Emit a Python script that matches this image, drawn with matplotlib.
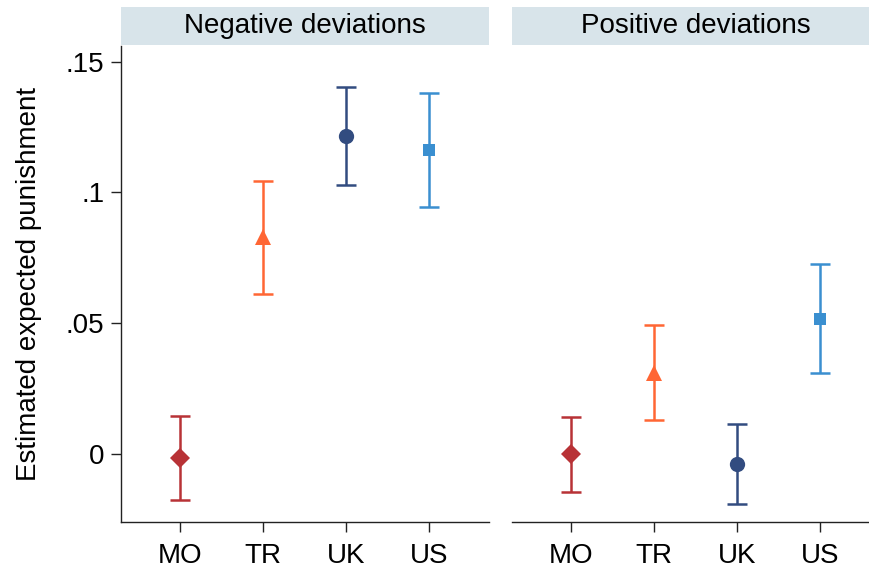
import matplotlib
matplotlib.use("Agg")
import matplotlib.pyplot as plt
from matplotlib.patches import Rectangle

plt.rcParams.update({
    "font.family": ["Liberation Sans", "DejaVu Sans"],
    "font.size": 20,
})

countries = ["MO", "TR", "UK", "US"]
colors = ["#b83236", "#ff6634", "#324c80", "#3a8fd0"]
markers = ["D", "^", "o", "s"]
msizes = [10, 11, 11, 9]

panels = ["Negative deviations", "Positive deviations"]
# point estimates with 95% CI bounds, per panel
neg_est = [-0.0017, 0.0831, 0.1215, 0.1161]
neg_lo = [-0.0176, 0.0612, 0.1027, 0.0944]
neg_hi = [0.0147, 0.1045, 0.1404, 0.1380]
pos_est = [-0.0001, 0.0310, -0.0038, 0.0518]
pos_lo = [-0.0146, 0.0131, -0.0193, 0.0308]
pos_hi = [0.0143, 0.0494, 0.0115, 0.0728]

yticks = [0, 0.05, 0.1, 0.15]
ytick_labels = ["0", ".05", ".1", ".15"]

fig = plt.figure(figsize=(8.7, 5.69), dpi=100)
W, H = 870, 569


def px_axes(x0, y0, x1, y1):
    return fig.add_axes([x0 / W, 1 - y1 / H, (x1 - x0) / W, (y1 - y0) / H])


# panel pixel extents; the right panel runs off the canvas edge
boxes = [(121, 489), (512, 870)]
title_cx = [305, 696]
data = [(neg_est, neg_lo, neg_hi), (pos_est, pos_lo, pos_hi)]
xlims = [(0.29, 4.72), (0.293, 4.606)]

for i, ((x0, x1), (est, lo, hi), title) in enumerate(zip(boxes, data, panels)):
    ax = px_axes(x0, 46, x1, 522)
    for k in range(len(countries)):
        ax.errorbar(k + 1, est[k], yerr=[[est[k] - lo[k]], [hi[k] - est[k]]],
                    fmt="none", ecolor=colors[k], elinewidth=1.8,
                    capsize=7, capthick=1.8)
        ax.plot(k + 1, est[k], marker=markers[k], color=colors[k],
                ms=msizes[k], mew=0, zorder=3)
    ax.set_xlim(*xlims[i])
    ax.set_ylim(-0.026, 0.156)
    ax.set_xticks(range(1, len(countries) + 1))
    ax.set_xticklabels(countries)
    ax.tick_params(axis="x", length=7, width=1.0, color="#222222", pad=8)
    for s in ("top", "right"):
        ax.spines[s].set_visible(False)
    ax.spines["bottom"].set_color("#222222")
    ax.spines["bottom"].set_linewidth(1.0)
    if i == 0:
        ax.set_yticks(yticks)
        ax.set_yticklabels(ytick_labels)
        ax.tick_params(axis="y", length=7, width=1.0, color="#222222", pad=5)
        ax.spines["left"].set_color("#222222")
        ax.spines["left"].set_linewidth(1.0)
        ax.set_ylabel("Estimated expected punishment", labelpad=17)
    else:
        ax.spines["left"].set_visible(False)
        ax.set_yticks([])

    # panel header strip
    sax = px_axes(x0, 7, x1, 44.5)
    sax.set_axis_off()
    sax.add_patch(Rectangle((0, 0), 1, 1, transform=sax.transAxes,
                            facecolor="#d8e4ea", edgecolor="none"))
    sax.text((title_cx[i] - x0) / (x1 - x0), 0.5, title,
             ha="center", va="center", transform=sax.transAxes)

fig.savefig("out.png", dpi=100)
